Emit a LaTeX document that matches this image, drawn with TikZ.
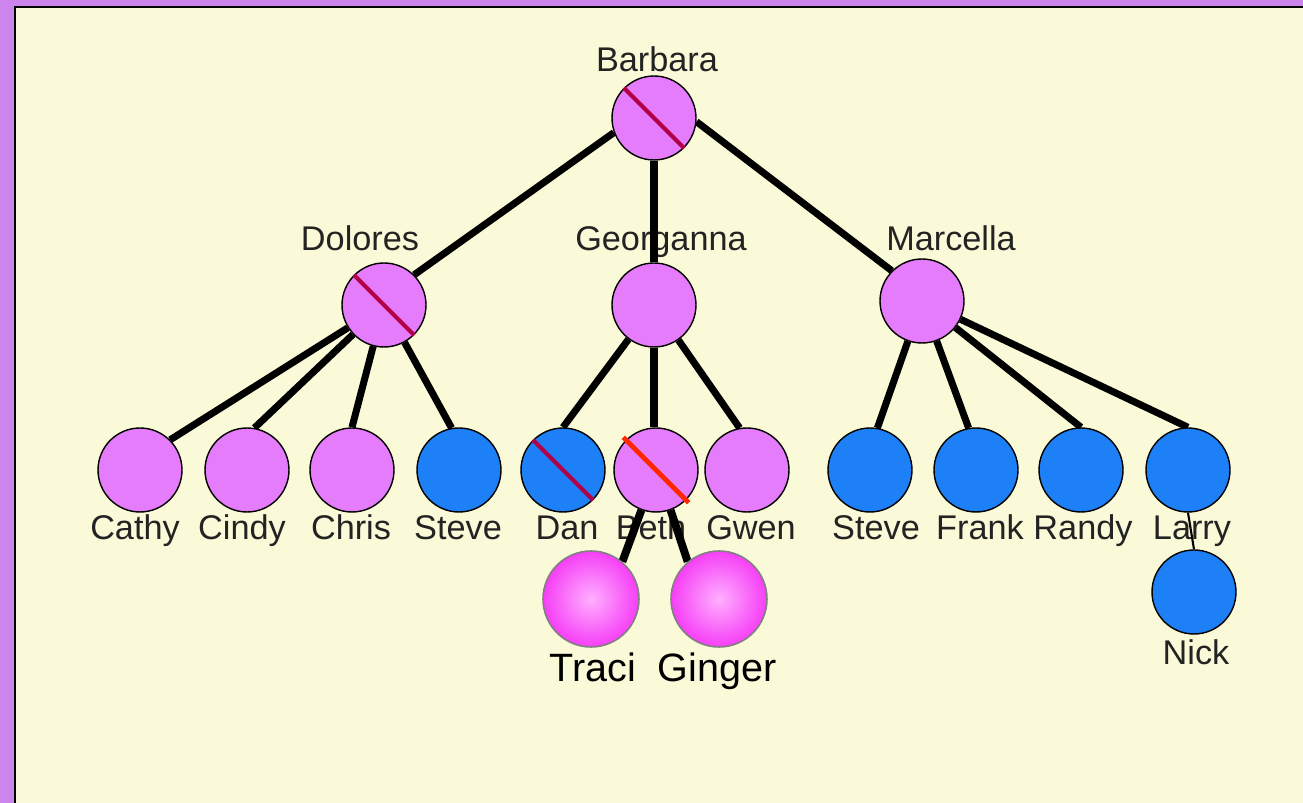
\documentclass[tikz,border=0pt]{standalone}
\usepackage{fontspec}
\setmainfont{Liberation Sans}
\usetikzlibrary{backgrounds}
\definecolor{framepurple}{RGB}{205,132,236}
\definecolor{paper}{RGB}{250,250,216}
\definecolor{girlpink}{RGB}{229,124,251}
\definecolor{boyblue}{RGB}{30,128,247}
\definecolor{slashred}{RGB}{178,0,72}
\definecolor{brightred}{RGB}{255,40,0}
\definecolor{namegray}{RGB}{35,35,35}
\definecolor{ballin}{RGB}{255,175,255}
\definecolor{ballout}{RGB}{246,62,246}
\tikzset{
  person/.style={circle, draw=black, line width=0.8pt, minimum size=1.68cm, inner sep=0pt},
  girlnode/.style={person, fill=girlpink},
  boynode/.style={person, fill=boyblue},
  kidball/.style={circle, draw=gray, line width=0.9pt, minimum size=1.92cm, inner sep=0pt,
    inner color=ballin, outer color=ballout},
  namelabel/.style={anchor=base, inner sep=0pt, text=namegray, font=\fontsize{19.5}{22}\selectfont},
  kidlabel/.style={anchor=base, inner sep=0pt, text=black, font=\fontsize{22.5}{26}\selectfont},
  tie/.style={line width=4pt, black},
  kidtie/.style={line width=4.5pt, black},
  crossout/.style={line width=2.4pt, slashred}
}
\begin{document}
\begin{tikzpicture}[x=0.02cm, y=-0.02cm]
  \useasboundingbox (0,0) rectangle (1303,803);
  % grandmother and her daughters
  \node[girlnode] (barbara) at (654,118) {};
  \node[girlnode] (dolores) at (384,305) {};
  \node[girlnode] (georganna) at (654,305) {};
  \node[girlnode] (marcella) at (922,301) {};
  % grandchildren
  \node[girlnode] (cathy) at (140,470) {};
  \node[girlnode] (cindy) at (247,470) {};
  \node[girlnode] (chris) at (352,470) {};
  \node[boynode] (steved) at (459,470) {};
  \node[boynode] (dan) at (563,470) {};
  \node[girlnode] (beth) at (656,470) {};
  \node[girlnode] (gwen) at (747,470) {};
  \node[boynode] (stevem) at (870,470) {};
  \node[boynode] (frank) at (976,470) {};
  \node[boynode] (randy) at (1081,470) {};
  \node[boynode] (larry) at (1188,470) {};
  \node[boynode] (nick) at (1194,592) {};
  \node[kidball] (traci) at (591,599) {};
  \node[kidball] (ginger) at (719,599) {};
  % crossed out
  \draw[crossout] (barbara.135) -- (barbara.-45);
  \draw[crossout] (dolores.135) -- (dolores.-45);
  \draw[crossout] (dan.135) -- (dan.-45);
  \draw[line width=2.8pt, brightred, shorten <=-2pt, shorten >=-2pt] (beth.135) -- (beth.-45);
  \begin{scope}[on background layer]
    \fill[framepurple] (0,0) rectangle (1303,803);
    \fill[paper] (15,7) rectangle (1303,803);
    \draw[line width=1.2pt] (15,803) -- (15,7) -- (1303,7);
    % names
    \node[namelabel] (n-barbara) at (657,72) {Barbara};
    \node[namelabel] (n-dolores) at (360,251) {Dolores};
    \node[namelabel] (n-georganna) at (661,251) {Georganna};
    \node[namelabel] (n-marcella) at (951,251) {Marcella};
    \node[namelabel] (n-cathy) at (135,540) {Cathy};
    \node[namelabel] (n-cindy) at (242,540) {Cindy};
    \node[namelabel] (n-chris) at (351,540) {Chris};
    \node[namelabel] (n-steved) at (458,540) {Steve};
    \node[namelabel] (n-dan) at (567,540) {Dan};
    \node[namelabel] (n-beth) at (651,540) {Beth};
    \node[namelabel] (n-gwen) at (751,540) {Gwen};
    \node[namelabel] (n-stevem) at (876,540) {Steve};
    \node[namelabel] (n-frank) at (980,540) {Frank};
    \node[namelabel] (n-randy) at (1083,540) {Randy};
    \node[namelabel] (n-larry) at (1192,540) {Larry};
    \node[namelabel] (n-nick) at (1196,665) {Nick};
    \node[kidlabel] (n-traci) at (593,682) {Traci};
    \node[kidlabel] (n-ginger) at (717,682) {Ginger};
    % family lines
    \draw[tie] (barbara.200) -- (dolores.45);
    \draw[tie] (barbara.south) -- (georganna.north);
    \draw[tie] (barbara.-5) -- (marcella.135);
    \draw[tie] (dolores) -- (cathy.45);
    \draw[tie] (dolores) -- (cindy.80);
    \draw[tie] (dolores) -- (chris.north);
    \draw[tie] (dolores) -- (steved.100);
    \draw[tie] (georganna) -- (dan.north);
    \draw[tie] (georganna.south) -- (georganna.south |- beth.north);
    \draw[tie] (georganna) -- (gwen.100);
    \draw[tie] (marcella) -- (stevem.80);
    \draw[tie] (marcella) -- (frank.100);
    \draw[tie] (marcella) -- (randy.north);
    \draw[tie] (marcella) -- (larry.north);
    \draw[kidtie] (beth.-110) -- (traci.50);
    \draw[kidtie] (beth.-70) -- (ginger.130);
    \draw[line width=1.2pt] (larry.south) -- (nick.north);
  \end{scope}
\end{tikzpicture}
\end{document}
